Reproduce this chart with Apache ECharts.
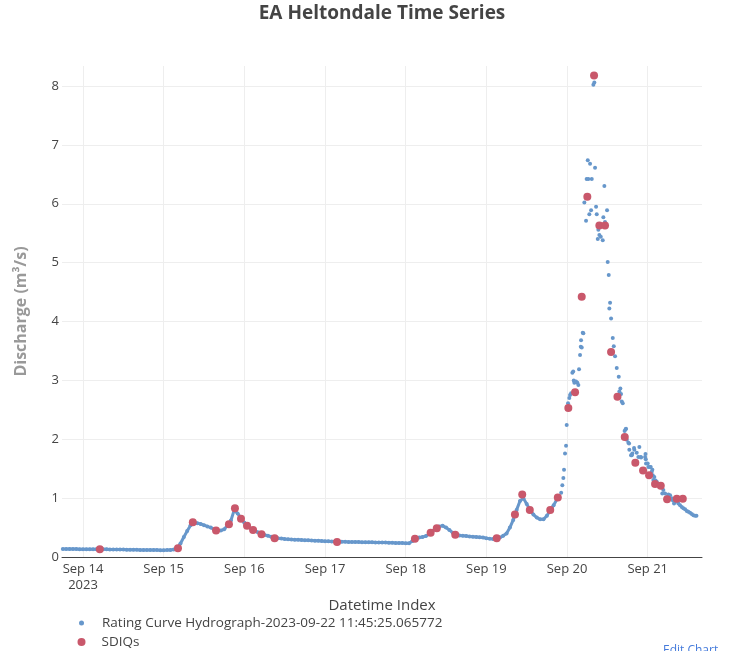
<!DOCTYPE html>
<html><head><meta charset="utf-8">
<script src="https://cdn.jsdelivr.net/npm/echarts@6/dist/echarts.min.js"></script>
<style>html,body{margin:0;padding:0;background:#fff}#c{width:731px;height:651px}</style>
</head><body><div id="c"></div><script>
// ---------- data ----------
const hydroName = 'Rating Curve Hydrograph-2023-09-22 11:45:25.065772';
const sdiqName = 'SDIQs';
const xRange = ['2023-09-13 17:45', '2023-09-21 16:09'];
const yRange = [0, 8.34];
const monthNames = ['Jan','Feb','Mar','Apr','May','Jun','Jul','Aug','Sep','Oct','Nov','Dec'];

// hourly readings of the hydrograph from 2023-09-13 18:00
const hourlyStart = '2023-09-13 18:00';
const hourlyFlow = [
  // Sep 13 18-23
  0.135,0.135,0.134,0.134,0.134,0.133,
  // Sep 14
  0.133,0.133,0.132,0.132,0.131,0.131, 0.130,0.130,0.129,0.128,0.128,0.127,
  0.126,0.125,0.124,0.123,0.122,0.121, 0.120,0.119,0.118,0.118,0.117,0.116,
  // Sep 15
  0.116,0.117,0.119,0.126,0.145,0.23, 0.34,0.44,0.54,0.59,0.575,0.56,
  0.54,0.52,0.50,0.47,0.455,0.45, 0.47,0.54,0.62,0.80,0.74,0.66,
  // Sep 16
  0.58,0.52,0.48,0.45,0.42,0.395, 0.375,0.36,0.345,0.33,0.32,0.315,
  0.305,0.302,0.298,0.295,0.292,0.289, 0.286,0.283,0.280,0.277,0.274,0.271,
  // Sep 17
  0.268,0.266,0.264,0.262,0.260,0.258, 0.257,0.256,0.255,0.254,0.253,0.252,
  0.251,0.250,0.249,0.248,0.247,0.246, 0.245,0.243,0.241,0.239,0.237,0.236,
  // Sep 18
  0.235,0.234,0.27,0.31,0.33,0.34, 0.355,0.39,0.44,0.48,0.52,0.53,
  0.50,0.46,0.41,0.375,0.365,0.36, 0.355,0.35,0.345,0.34,0.335,0.33,
  // Sep 19 00-21
  0.32,0.312,0.305,0.31,0.33,0.36, 0.40,0.50,0.63,0.80,0.95,1.00,
  0.90,0.80,0.72,0.67,0.64,0.64, 0.70,0.79,0.88,0.98
];

// flood peak readings (irregular, noisy)
const peakTimes = [
 '2023-09-19 22:15','2023-09-19 22:36','2023-09-19 22:54','2023-09-19 23:06','2023-09-19 23:24','2023-09-19 23:42','2023-09-19 23:54',
 '2023-09-20 00:18','2023-09-20 00:40','2023-09-20 00:54','2023-09-20 01:12','2023-09-20 01:35','2023-09-20 01:50','2023-09-20 02:00',
 '2023-09-20 02:10','2023-09-20 02:40','2023-09-20 03:04','2023-09-20 03:22','2023-09-20 03:34','2023-09-20 03:52','2023-09-20 04:05',
 '2023-09-20 04:10','2023-09-20 04:22','2023-09-20 04:40','2023-09-20 04:51','2023-09-20 05:09','2023-09-20 05:39','2023-09-20 05:50',
 '2023-09-20 06:10','2023-09-20 06:21','2023-09-20 06:38','2023-09-20 06:51','2023-09-20 07:09','2023-09-20 07:21','2023-09-20 07:50',
 '2023-09-20 08:07','2023-09-20 08:20','2023-09-20 08:38','2023-09-20 08:50','2023-09-20 09:08','2023-09-20 09:19','2023-09-20 09:37',
 '2023-09-20 10:02','2023-09-20 10:37','2023-09-20 10:48','2023-09-20 11:06','2023-09-20 11:18','2023-09-20 11:54','2023-09-20 12:06',
 '2023-09-20 12:24','2023-09-20 12:35','2023-09-20 12:48','2023-09-20 13:06','2023-09-20 13:36','2023-09-20 13:54','2023-09-20 14:17',
 '2023-09-20 14:47','2023-09-20 15:23','2023-09-20 15:34','2023-09-20 15:52','2023-09-20 16:04','2023-09-20 16:17','2023-09-20 16:34',
 '2023-09-20 17:08','2023-09-20 17:25','2023-09-20 17:33','2023-09-20 17:46','2023-09-20 18:14','2023-09-20 18:27','2023-09-20 18:32',
 '2023-09-20 19:02','2023-09-20 19:15','2023-09-20 19:26','2023-09-20 19:56','2023-09-20 20:01','2023-09-20 20:44','2023-09-20 21:13',
 '2023-09-20 21:31','2023-09-20 21:56','2023-09-20 22:01','2023-09-20 23:13','2023-09-20 23:20','2023-09-20 23:25','2023-09-20 23:30',
 '2023-09-21 00:00','2023-09-21 00:11','2023-09-21 00:42','2023-09-21 00:54','2023-09-21 01:12','2023-09-21 01:23','2023-09-21 01:30',
 '2023-09-21 01:41','2023-09-21 01:58','2023-09-21 02:20','2023-09-21 02:41','2023-09-21 03:10','2023-09-21 03:40','2023-09-21 04:11',
 '2023-09-21 04:20','2023-09-21 04:39','2023-09-21 05:10','2023-09-21 05:44','2023-09-21 06:10','2023-09-21 06:39','2023-09-21 07:09',
 '2023-09-21 07:30','2023-09-21 07:50','2023-09-21 08:08','2023-09-21 08:40','2023-09-21 09:07','2023-09-21 09:37','2023-09-21 10:08',
 '2023-09-21 10:36','2023-09-21 11:07','2023-09-21 11:37','2023-09-21 12:05','2023-09-21 12:36','2023-09-21 13:06','2023-09-21 13:35',
 '2023-09-21 14:05','2023-09-21 14:30'
];
const peakFlows = [
 1.09,1.22,1.34,1.48,1.76,1.89,2.24,
 2.61,2.70,2.75,2.78,3.13,3.15,3.00,
 2.96,2.98,2.96,2.92,3.19,3.43,3.57,
 3.68,3.56,3.81,3.80,6.02,5.71,6.42,
 6.74,6.42,5.82,6.68,5.89,6.42,8.02,
 8.06,6.61,5.95,5.82,5.40,5.56,5.47,
 5.44,5.38,5.77,6.30,5.69,5.89,5.01,
 4.79,4.22,4.32,4.05,3.72,3.58,3.41,
 3.21,3.06,2.81,2.86,2.77,2.64,2.61,
 2.14,2.17,2.18,1.99,1.94,1.93,1.82,
 1.73,1.73,1.76,1.85,1.82,1.77,1.70,
 1.87,1.70,1.69,1.70,1.75,1.66,1.59,
 1.59,1.53,1.53,1.53,1.45,1.48,1.39,
 1.31,1.36,1.30,1.28,1.24,1.20,1.18,
 1.08,1.14,1.08,1.02,1.06,1.05,1.00,
 0.96,0.91,0.94,0.96,0.91,0.88,0.85,
 0.83,0.81,0.78,0.77,0.75,0.73,0.71,
 0.70,0.70
];

const sdiqTimes = [
 '2023-09-14 05:00','2023-09-15 04:15','2023-09-15 08:40','2023-09-15 15:35','2023-09-15 19:25','2023-09-15 21:12',
 '2023-09-15 23:00','2023-09-16 00:48','2023-09-16 02:36','2023-09-16 05:06','2023-09-16 09:00','2023-09-17 03:35',
 '2023-09-18 02:45','2023-09-18 07:25','2023-09-18 09:15','2023-09-18 14:45','2023-09-19 03:05','2023-09-19 08:30',
 '2023-09-19 10:40','2023-09-19 12:55','2023-09-19 19:00','2023-09-19 21:15','2023-09-20 00:23','2023-09-20 02:23',
 '2023-09-20 04:22','2023-09-20 06:02','2023-09-20 08:02','2023-09-20 09:37','2023-09-20 11:18','2023-09-20 13:06',
 '2023-09-20 15:00','2023-09-20 17:10','2023-09-20 20:19','2023-09-20 22:37','2023-09-21 00:24','2023-09-21 02:11',
 '2023-09-21 03:53','2023-09-21 05:46','2023-09-21 08:39','2023-09-21 10:26'
];
const sdiqFlows = [
 0.13,0.15,0.59,0.45,0.555,0.83,
 0.65,0.53,0.46,0.385,0.32,0.255,
 0.31,0.41,0.49,0.38,0.32,0.72,
 1.06,0.80,0.80,1.01,2.53,2.80,
 4.42,6.12,8.18,5.63,5.63,3.48,
 2.72,2.04,1.60,1.47,1.39,1.24,
 1.21,0.98,0.99,0.99
];

// ---------- build ----------
function ts(s){ return new Date(s.replace(' ', 'T') + ':00').getTime(); }
const HOUR = 3600000, DAY = 86400000;
const t0 = ts(hourlyStart);
const hourlyData = hourlyFlow.map((v, i) => [t0 + i * HOUR, v]);
const hydroData = hourlyData.concat(peakTimes.map((t, i) => [ts(t), peakFlows[i]]));
const sdiqData = sdiqTimes.map((t, i) => [ts(t), sdiqFlows[i]]);

const FONT = '"Open Sans", Verdana, Arial, sans-serif';
const BLUE = '#6797cb', RED = '#c9586b';
const chart = echarts.init(document.getElementById('c'), null, {renderer: 'canvas'});
chart.setOption({
  animation: false,
  backgroundColor: '#fff',
  textStyle: {fontFamily: FONT},
  title: {
    text: 'EA Heltondale Time Series', left: 382, top: 4, textAlign: 'center', padding: 0,
    textStyle: {fontFamily: FONT, fontSize: 19, fontWeight: 'bold', color: '#444'}
  },
  grid: {left: 62, right: 29, top: 66, bottom: 94},
  legend: [
    {data: [hydroName], orient: 'vertical', left: 79, top: 616, padding: 0,
     itemWidth: 5, itemHeight: 5,
     textStyle: {fontFamily: FONT, fontSize: 13.5, color: '#444', padding: [0, 0, 0, 13]}},
    {data: [sdiqName], orient: 'vertical', left: 77.5, top: 635, padding: 0,
     itemWidth: 8, itemHeight: 8,
     textStyle: {fontFamily: FONT, fontSize: 13.5, color: '#444', padding: [0, 0, 0, 11]}}
  ],
  xAxis: {
    type: 'time', min: ts(xRange[0]), max: ts(xRange[1]),
    minInterval: DAY, maxInterval: DAY,
    axisLine: {show: true, lineStyle: {color: '#444', width: 1}},
    axisTick: {show: false},
    axisLabel: {
      color: '#444', fontSize: 13, fontFamily: FONT, margin: 4, lineHeight: 16, hideOverlap: false,
      formatter: function (value) {
        const d = new Date(value);
        if (d.getHours() !== 0 || d.getMinutes() !== 0) return '';
        let s = monthNames[d.getMonth()] + ' ' + d.getDate();
        if (d.getDate() === 14) s += '\n' + d.getFullYear();
        return s;
      }
    },
    splitLine: {show: true, lineStyle: {color: '#eee', width: 1}, showMinLine: false, showMaxLine: false},
    name: 'Datetime Index', nameLocation: 'middle', nameGap: 38,
    nameTextStyle: {fontFamily: FONT, fontSize: 15, color: '#444'}
  },
  yAxis: {
    type: 'value', min: yRange[0], max: yRange[1], interval: 1,
    axisLine: {show: false}, axisTick: {show: false},
    axisLabel: {color: '#444', fontSize: 13, fontFamily: FONT, margin: 3,
      formatter: v => Number.isInteger(v) ? String(v) : ''},
    splitLine: {show: true, lineStyle: {color: '#eee', width: 1}, showMaxLine: false},
    name: 'Discharge (m³/s)', nameLocation: 'middle', nameGap: 33, nameRotate: 90,
    nameTextStyle: {fontFamily: FONT, fontSize: 16, color: '#999', fontWeight: 'bold'}
  },
  series: [
    {name: hydroName, type: 'scatter', data: hydroData, symbolSize: 4, silent: true,
     itemStyle: {color: BLUE, opacity: 1}, z: 2},
    {name: hydroName, type: 'line', data: hourlyData, showSymbol: false, silent: true,
     lineStyle: {color: BLUE, width: 3}, itemStyle: {color: BLUE}, z: 1},
    {name: sdiqName, type: 'scatter', data: sdiqData, symbolSize: 8, silent: true,
     itemStyle: {color: RED, opacity: 1}, z: 3}
  ],
  graphic: [
    {type: 'text', left: 663, top: 645, silent: true,
     style: {text: 'Edit Chart', fill: '#447adb', font: '12px ' + FONT}}
  ]
});
</script></body></html>
